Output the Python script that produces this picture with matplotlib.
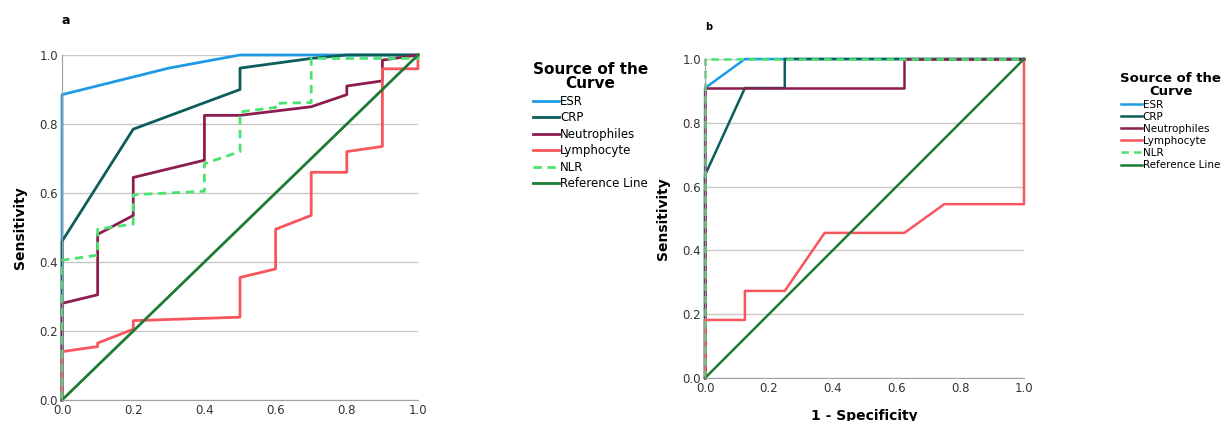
import matplotlib
matplotlib.use("Agg")
from matplotlib import pyplot as plt

# panel a (x = 1 - specificity, y = sensitivity)
a_esr_x = [0, 0, 0.3, 0.5, 1.0]
a_esr_y = [0, 0.885, 0.962, 1.0, 1.0]
a_crp_x = [0, 0, 0.2, 0.5, 0.5, 0.7, 0.8, 1.0]
a_crp_y = [0, 0.46, 0.785, 0.9, 0.962, 0.99, 1.0, 1.0]
a_neu_x = [0, 0, 0.1, 0.1, 0.2, 0.2, 0.4, 0.4, 0.5, 0.7, 0.8, 0.8, 0.9, 0.9, 1.0]
a_neu_y = [0, 0.28, 0.305, 0.48, 0.535, 0.645, 0.695, 0.825, 0.825, 0.85, 0.885, 0.91, 0.925, 0.985, 1.0]
a_lym_x = [0, 0, 0.1, 0.1, 0.2, 0.2, 0.5, 0.5, 0.6, 0.6, 0.7, 0.7, 0.8, 0.8, 0.9, 0.9, 1.0, 1.0]
a_lym_y = [0, 0.14, 0.155, 0.165, 0.205, 0.23, 0.24, 0.355, 0.38, 0.495, 0.535, 0.66, 0.66, 0.72, 0.735, 0.96, 0.96, 1.0]
a_nlr_x = [0, 0, 0.1, 0.1, 0.2, 0.2, 0.4, 0.4, 0.5, 0.5, 0.6, 0.6, 0.7, 0.7, 1.0, 1.0]
a_nlr_y = [0, 0.405, 0.42, 0.495, 0.51, 0.595, 0.605, 0.685, 0.72, 0.835, 0.848, 0.86, 0.862, 0.99, 0.99, 1.0]

# panel b
b_esr_x = [0, 0, 0.125, 1.0]
b_esr_y = [0, 0.909, 1.0, 1.0]
b_crp_x = [0, 0, 0.125, 0.25, 0.25, 1.0]
b_crp_y = [0, 0.636, 0.909, 0.909, 1.0, 1.0]
b_neu_x = [0, 0, 0.625, 0.625, 1.0]
b_neu_y = [0, 0.909, 0.909, 1.0, 1.0]
b_lym_x = [0, 0, 0.125, 0.125, 0.25, 0.375, 0.625, 0.75, 1.0, 1.0]
b_lym_y = [0, 0.182, 0.182, 0.273, 0.273, 0.455, 0.455, 0.545, 0.545, 1.0]
b_nlr_x = [0, 0, 1.0]
b_nlr_y = [0, 1.0, 1.0]

ref_x = [0, 1]
ref_y = [0, 1]
labels = ["ESR", "CRP", "Neutrophiles", "Lymphocyte", "NLR", "Reference Line"]
ticks = [0.0, 0.2, 0.4, 0.6, 0.8, 1.0]

colors = ["#1e9be6", "#0d5d5b", "#8c1d4e", "#f9555c", "#4be36f", "#1e7b34"]
styles = ["-", "-", "-", "-", "--", "-"]


def _draw_panel(ax, curves, lw):
    for (xs, ys), c, ls, lab in zip(curves, colors, styles, labels):
        ax.plot(xs, ys, color=c, linestyle=ls, linewidth=lw, label=lab,
                dashes=(3, 2) if ls == "--" else (None, None), clip_on=False)
    ax.set_xlim(0, 1)
    ax.set_ylim(0, 1)
    ax.set_xticks(ticks)
    ax.set_yticks(ticks)
    ax.set_xticklabels(["%.1f" % t for t in ticks])
    ax.set_yticklabels(["%.1f" % t for t in ticks])
    ax.yaxis.grid(True, color="#c8c8c8", linewidth=1)
    ax.set_axisbelow(True)
    for s in ["top", "right"]:
        ax.spines[s].set_visible(False)
    for s in ["left", "bottom"]:
        ax.spines[s].set_color("#a0a0a0")
    ax.tick_params(length=0, labelsize=8.5, colors="#333333", pad=3)
    ax.set_ylabel("Sensitivity", fontsize=10, fontweight="bold", labelpad=9)


fig = plt.figure(figsize=(12.24, 4.21), dpi=100)
ax_a = fig.add_axes([0.0507, 0.0499, 0.2908, 0.8195])
ax_b = fig.add_axes([0.576, 0.1021, 0.2606, 0.7577])

curves_a = [(a_esr_x, a_esr_y), (a_crp_x, a_crp_y), (a_neu_x, a_neu_y),
            (a_lym_x, a_lym_y), (a_nlr_x, a_nlr_y), (ref_x, ref_y)]
curves_b = [(b_esr_x, b_esr_y), (b_crp_x, b_crp_y), (b_neu_x, b_neu_y),
            (b_lym_x, b_lym_y), (b_nlr_x, b_nlr_y), (ref_x, ref_y)]
_draw_panel(ax_a, curves_a, 2.0)
_draw_panel(ax_b, curves_b, 1.8)
ax_b.set_xlabel("1 - Specificity", fontsize=10, fontweight="bold", labelpad=10)

fig.text(62 / 1224, 1 - 20 / 421, "a", fontsize=9, fontweight="bold", va="center")
fig.text(705 / 1224, 1 - 27 / 421, "b", fontsize=7, fontweight="bold", va="center")

leg_a = ax_a.legend(loc="upper left", bbox_to_anchor=(528 / 1224, 1 - 57 / 421),
                    bbox_transform=fig.transFigure, frameon=False,
                    title="Source of the\nCurve", fontsize=8.5, handlelength=2.2,
                    handletextpad=0.1, labelspacing=0.3, borderaxespad=0)
leg_a.get_title().set_fontweight("bold")
leg_a.get_title().set_fontsize(11)
leg_a.get_title().set_multialignment("center")
leg_a.get_title().set_linespacing(0.95)

leg_b = ax_b.legend(loc="upper left", bbox_to_anchor=(1116 / 1224, 1 - 68 / 421),
                    bbox_transform=fig.transFigure, frameon=False,
                    title="Source of the\nCurve", fontsize=7.5, handlelength=2.0,
                    handletextpad=0.1, labelspacing=0.2, borderaxespad=0)
leg_b.get_title().set_fontweight("bold")
leg_b.get_title().set_fontsize(9.5)
leg_b.get_title().set_multialignment("center")
leg_b.get_title().set_linespacing(0.95)

fig.savefig("out.png", dpi=100)
